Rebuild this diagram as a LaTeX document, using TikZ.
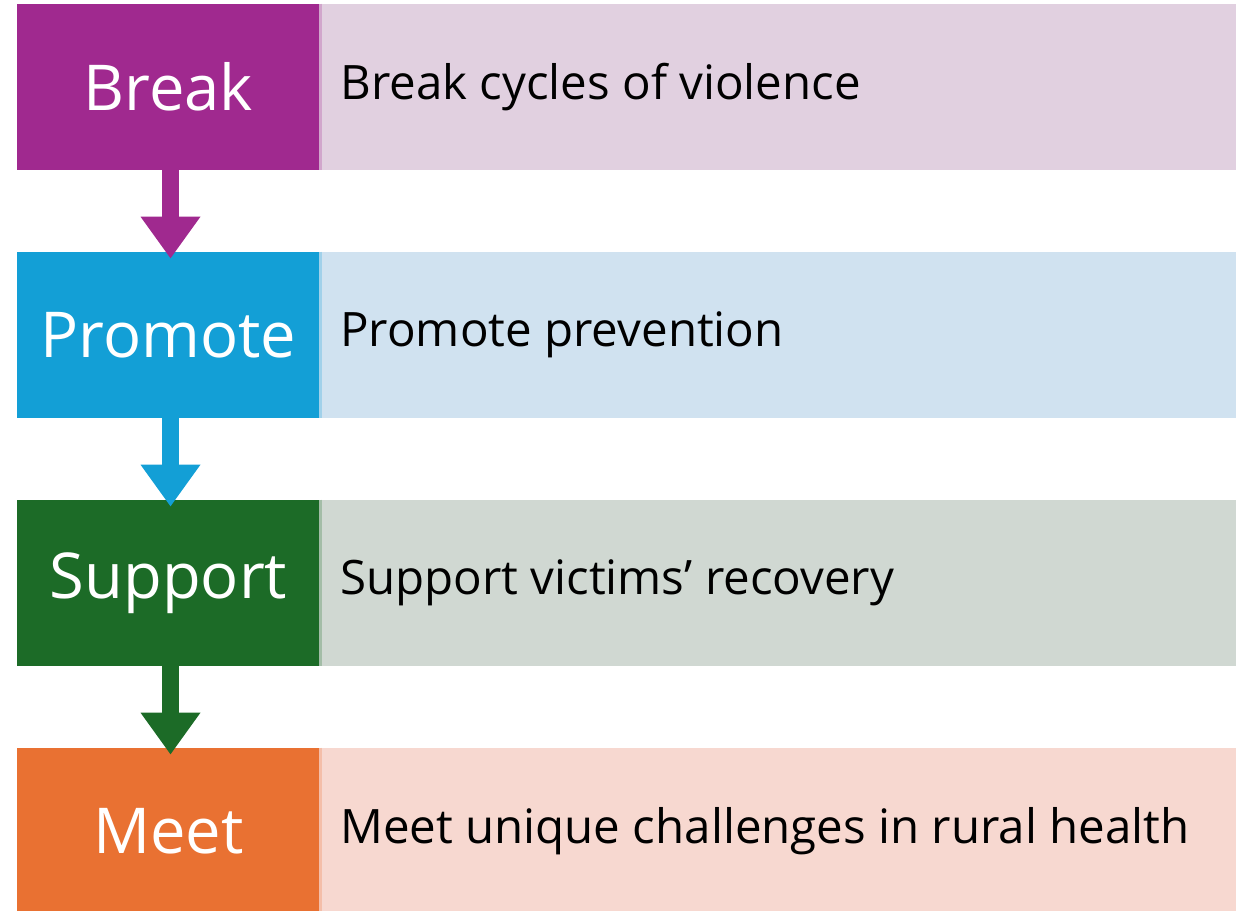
\documentclass[tikz,border=0pt]{standalone}
\usepackage{fontspec}
\setmainfont{Open Sans}
\usetikzlibrary{calc, arrows.meta}
\definecolor{breakdark}{HTML}{A0298F}
\definecolor{breaklight}{HTML}{E1D0E0}
\definecolor{promotedark}{HTML}{139FD6}
\definecolor{promotelight}{HTML}{D0E2F0}
\definecolor{supportdark}{HTML}{1C6B27}
\definecolor{supportlight}{HTML}{D0D8D2}
\definecolor{meetdark}{HTML}{E97132}
\definecolor{meetlight}{HTML}{F7D8D0}

\begin{document}
\begin{tikzpicture}
			\tikzset{step box/.style={rectangle,fill=#1,minimum width=6.06cm,minimum height=3.32cm,inner sep=0pt,text=white,font=\fontsize{36}{42}\selectfont},
			desc box/.style={rectangle,fill=#1,minimum width=18.3cm,minimum height=3.32cm,inner sep=0pt,anchor=west},
			desc text/.style={anchor=west,inner sep=0pt,font=\fontsize{27}{32}\selectfont},
			step arrow/.style={draw=#1,line width=0.34cm,-{Triangle[width=1.14cm,length=0.84cm]}}}
			\useasboundingbox (0,0) rectangle (24.9,-18.2);
			
			\node [step box = breakdark] (break) at (3.37,-1.74) {Break};
			\node [desc box = breaklight] (breakd) at (break.east) {};
			\node [desc text] at (6.80,-1.74) {Break cycles of violence};
			
			\node [step box = promotedark] (promote) at (3.37,-6.70) {Promote};
			\node [desc box = promotelight] (promoted) at (promote.east) {};
			\node [desc text] at (6.80,-6.70) {Promote prevention};
			
			\node [step box = supportdark] (support) at (3.37,-11.66) {Support};
			\node [desc box = supportlight] (supportd) at (support.east) {};
			\node [desc text] at (6.80,-11.66) {Support victims’ recovery};
			
			\node [step box = meetdark] (meet) at (3.37,-16.62) {Meet};
			\node [desc box = meetlight] (meetd) at (meet.east) {};
			\node [desc text] at (6.80,-16.62) {Meet unique challenges in rural health};
			
			\draw [breaklight!75!breakdark, line width=0.06cm] (breakd.north west) -- (breakd.south west);
			\draw [promotelight!75!promotedark, line width=0.06cm] (promoted.north west) -- (promoted.south west);
			\draw [supportlight!75!supportdark, line width=0.06cm] (supportd.north west) -- (supportd.south west);
			\draw [meetlight!75!meetdark, line width=0.06cm] (meetd.north west) -- (meetd.south west);
			
			\draw [step arrow = breakdark] ($(break.south)+(0.04,0)$) -- ($(promote.north)+(0.04,-0.14)$);
			\draw [step arrow = promotedark] ($(promote.south)+(0.04,0)$) -- ($(support.north)+(0.04,-0.14)$);
			\draw [step arrow = supportdark] ($(support.south)+(0.04,0)$) -- ($(meet.north)+(0.04,-0.14)$);
			\end{tikzpicture}
\end{document}
